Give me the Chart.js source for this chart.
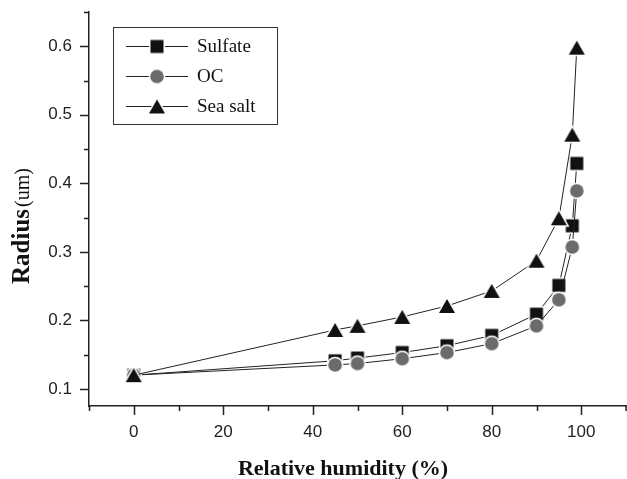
<!DOCTYPE html>
<html><head><meta charset="utf-8">
<script src="https://cdn.jsdelivr.net/npm/chart.js@4.4.0/dist/chart.umd.min.js"></script>
<style>html,body{margin:0;padding:0;background:#fff;} #wrap{width:627px;height:479px;position:relative;}</style>
</head><body><div id="wrap"><canvas id="c" width="627" height="479"></canvas></div>
<script>
const humidity = [0, 45, 50, 60, 70, 80, 90, 95, 98, 99];
const sulfate  = [0.120, 0.141, 0.145, 0.153, 0.163, 0.178, 0.209, 0.251, 0.338, 0.429];
const oc       = [0.120, 0.135, 0.137, 0.144, 0.153, 0.166, 0.192, 0.230, 0.307, 0.389];
const seaSalt  = [0.120, 0.186, 0.192, 0.205, 0.221, 0.243, 0.287, 0.349, 0.471, 0.598];
const seriesNames = ['Sulfate', 'OC', 'Sea salt'];
const xTickValues = [0, 20, 40, 60, 80, 100];
const yTickValues = [0.1, 0.2, 0.3, 0.4, 0.5, 0.6];
const xTitle = 'Relative humidity (%)';
const yTitleBold = 'Radius';
const yTitleUnit = '(um)';

function makeMarker(kind, fill) {
  const c = document.createElement('canvas');
  const S = 22; c.width = S; c.height = S;
  const g = c.getContext('2d');
  g.fillStyle = fill; g.strokeStyle = '#fff'; g.lineWidth = 3; g.lineJoin = 'miter';
  const m = S / 2;
  g.beginPath();
  if (kind === 'square') { g.rect(m - 6.5, m - 6.5, 13, 13); }
  else if (kind === 'circle') { g.arc(m, m, 6.8, 0, Math.PI * 2); }
  else { g.moveTo(m, m - 7); g.lineTo(m + 8, m + 7); g.lineTo(m - 8, m + 7); g.closePath(); }
  g.stroke(); g.fill();
  return c;
}
const mSquare = makeMarker('square', '#111');
const mCircle = makeMarker('circle', '#6b6b6b');
const mTri = makeMarker('tri', '#111');
const markers = [mSquare, mCircle, mTri];

const toPts = arr => arr.map((v, i) => ({x: humidity[i], y: v}));

const axisTicks = {
  id: 'axisTicks',
  afterDraw(chart) {
    const ctx = chart.ctx, xs = chart.scales.x, ys = chart.scales.y;
    ctx.save();
    ctx.strokeStyle = '#222'; ctx.lineWidth = 1.5;
    ctx.beginPath();
    xs.ticks.forEach(t => {
      const px = Math.min(Math.round(xs.getPixelForValue(t.value)) + 0.5, chart.width - 1);
      const len = xTickValues.includes(t.value) ? 9 : 5;
      ctx.moveTo(px, xs.top); ctx.lineTo(px, xs.top + len);
    });
    ys.ticks.forEach(t => {
      const py = Math.round(ys.getPixelForValue(t.value)) + 0.5;
      const r = Math.round(t.value * 100) / 100;
      const len = yTickValues.some(v => Math.abs(v - r) < 1e-9) ? 9 : 5;
      ctx.moveTo(ys.right, py); ctx.lineTo(ys.right - len, py);
    });
    ctx.stroke();
    ctx.restore();
  }
};

const legendAndTitles = {
  id: 'legendAndTitles',
  afterDraw(chart) {
    const ctx = chart.ctx;
    ctx.save();
    ctx.strokeStyle = '#333'; ctx.lineWidth = 1;
    ctx.strokeRect(113.5, 27.5, 164, 97);
    const rows = [46, 76, 106];
    seriesNames.forEach((name, i) => {
      const y = rows[i];
      ctx.strokeStyle = '#222'; ctx.lineWidth = 1;
      ctx.beginPath(); ctx.moveTo(126, y + 0.5); ctx.lineTo(188, y + 0.5); ctx.stroke();
      const mk = markers[i];
      ctx.drawImage(mk, 157 - mk.width / 2, y + 0.5 - mk.height / 2);
      ctx.fillStyle = '#111';
      ctx.font = '19px "Liberation Serif"';
      ctx.textBaseline = 'middle'; ctx.textAlign = 'left';
      ctx.fillText(name, 197, y + 1);
    });
    ctx.fillStyle = '#111';
    ctx.font = 'bold 22px "Liberation Serif"';
    ctx.textAlign = 'center'; ctx.textBaseline = 'alphabetic';
    ctx.fillText(xTitle, 343, 475);
    ctx.translate(29, 226);
    ctx.rotate(-Math.PI / 2);
    ctx.font = 'bold 25px "Liberation Serif"';
    const w1 = ctx.measureText(yTitleBold).width;
    ctx.font = '20px "Liberation Serif"';
    const w2 = ctx.measureText(yTitleUnit).width;
    const start = -(w1 + 2 + w2) / 2;
    ctx.textAlign = 'left';
    ctx.font = 'bold 25px "Liberation Serif"';
    ctx.fillText(yTitleBold, start, 0);
    ctx.font = '20px "Liberation Serif"';
    ctx.fillText(yTitleUnit, start + w1 + 2, 0);
    ctx.restore();
  }
};

const ds = (label, data, marker, order) => ({
  label, data: toPts(data), borderColor: '#222', borderWidth: 1, tension: 0,
  pointStyle: marker, pointRadius: 0.5, pointBorderWidth: 0, pointHoverRadius: 0.5,
  order, fill: false, clip: false
});

const zeroPad = s => { s.paddingTop = 0; s.paddingBottom = 0; s.paddingLeft = 0; s.paddingRight = 0; };

new Chart(document.getElementById('c'), {
  type: 'line',
  data: {
    datasets: [
      ds(seriesNames[0], sulfate, mSquare, 2),
      ds(seriesNames[1], oc, mCircle, 1),
      ds(seriesNames[2], seaSalt, mTri, 0)
    ]
  },
  options: {
    responsive: false, animation: false, devicePixelRatio: 1,
    layout: {padding: {top: 12, right: 1, left: 0, bottom: 0}},
    plugins: {legend: {display: false}, tooltip: {enabled: false}},
    scales: {
      x: {
        type: 'linear', min: -10, max: 110,
        grid: {display: false, drawTicks: false, tickLength: 0},
        border: {display: true, color: '#222', width: 1.5},
        ticks: {
          stepSize: 10, autoSkip: false, maxRotation: 0, padding: 16,
          color: '#222', font: {family: 'Liberation Sans', size: 17},
          callback: v => xTickValues.includes(v) ? String(v) : ''
        },
        afterFit: s => { s.height = 73; zeroPad(s); }
      },
      y: {
        type: 'linear', min: 0.075, max: 0.65,
        grid: {display: false, drawTicks: false, tickLength: 0},
        border: {display: true, color: '#222', width: 1.5},
        ticks: {
          stepSize: 0.05, includeBounds: false, autoSkip: false, padding: 17,
          color: '#222', font: {family: 'Liberation Sans', size: 17},
          callback: v => {
            const r = Math.round(v * 100) / 100;
            return yTickValues.some(t => Math.abs(t - r) < 1e-9) ? r.toFixed(1) : '';
          }
        },
        afterFit: s => { s.width = 89; zeroPad(s); }
      }
    }
  },
  plugins: [axisTicks, legendAndTitles]
});
</script></body></html>
